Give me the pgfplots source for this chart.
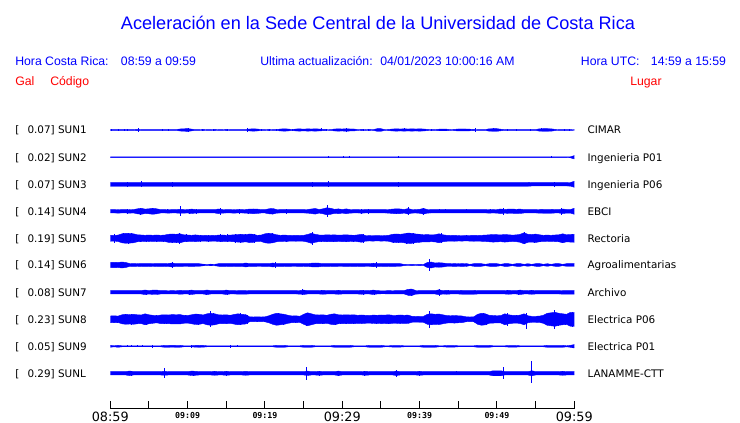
\documentclass[border=0pt]{standalone}
\usepackage{fontspec}
\setmainfont{Liberation Sans}
\newfontfamily\dejavu{DejaVu Sans}
\newfontfamily\dejamono{DejaVu Sans Mono}
\usepackage{pgfplots}
\usepackage{pgfplotstable}
\pgfplotsset{compat=1.18}
\usepgfplotslibrary{fillbetween}

\newcommand{\tlbig}[1]{{\dejavu\fontsize{9.6}{10}\selectfont #1}}
\newcommand{\tlsmall}[1]{{\dejamono\bfseries\fontsize{6.2}{7}\selectfont #1}}

% envelope half-amplitudes (image px) of the ten traces, every 0.5 min
\pgfplotstableread{
t a1 a2 a3 a4 a5 a6 a7 a8 a9 a10
0 0.4 0.4 2.0 1.7 3.0 2.5 1.7 3.3 1.0 1.7
0.5 0.4 0.4 2.0 1.7 2.8 2.7 1.7 3.5 0.5 1.7
1 0.4 0.4 2.0 1.8 3.2 2.5 1.7 3.2 1.0 1.7
1.5 0.4 0.4 2.0 1.7 4.5 3.0 1.7 4.5 0.5 1.7
2 0.4 0.4 2.0 1.7 5.0 2.5 1.7 5.0 0.5 1.7
2.5 0.4 0.4 2.0 1.8 4.8 1.5 1.7 4.7 0.5 2.3
3 0.4 0.4 2.0 1.7 4.5 1.3 1.7 5.0 0.5 1.7
3.5 0.7 0.4 2.0 2.5 3.5 1.5 1.7 4.5 0.5 1.7
4 0.4 0.4 2.0 3.0 3.3 1.3 1.7 4.3 0.5 1.7
4.5 0.4 0.4 2.0 2.2 3.0 1.4 2.3 5.5 0.5 1.7
5 0.4 0.4 2.0 2.5 3.3 1.3 1.7 4.5 0.5 1.7
5.5 0.4 0.4 2.0 3.0 3.0 1.5 2.2 4.0 0.5 1.7
6 0.4 0.4 2.0 2.5 3.3 1.3 2.2 3.5 0.5 1.7
6.5 0.4 0.4 2.0 1.7 3.0 1.4 1.7 4.3 0.5 1.7
7 0.4 0.4 2.0 1.7 3.2 1.3 1.7 4.5 1.0 2.0
7.5 0.4 0.4 2.0 1.8 4.0 1.5 1.5 4.3 1.0 1.7
8 0.4 0.4 2.0 1.7 4.3 2.0 1.7 4.7 0.9 1.7
8.5 0.4 0.4 2.0 1.7 4.0 1.3 1.5 4.5 1.0 1.7
9 1.0 0.4 2.0 2.0 4.5 1.4 2.0 4.7 1.0 1.7
9.5 1.2 0.4 2.0 1.8 3.5 1.3 1.7 4.0 0.5 1.7
10 1.4 0.4 2.0 1.7 3.3 1.3 1.7 3.8 0.5 1.7
10.5 0.9 0.4 2.0 2.2 3.0 1.4 2.2 4.5 0.5 2.2
11 0.4 0.4 2.0 1.8 3.4 1.3 1.7 5.2 0.9 2.0
11.5 0.4 0.4 2.0 1.7 3.0 1.3 1.7 5.0 1.0 1.7
12 0.6 0.4 2.0 1.7 2.8 0.8 1.7 4.3 0.9 1.7
12.5 0.4 0.4 2.0 1.7 3.0 0.7 2.3 5.5 0.5 1.7
13 0.4 0.4 2.0 1.7 3.0 0.8 1.7 6.0 0.5 1.7
13.5 0.6 0.4 2.0 1.7 2.8 0.7 1.7 5.5 0.5 2.0
14 0.4 0.4 2.0 2.3 3.2 1.3 1.7 4.5 0.5 1.7
14.5 0.4 0.4 2.0 1.8 3.3 1.4 1.7 4.3 0.5 1.7
15 0.6 0.4 2.0 1.7 3.0 1.3 2.2 4.5 0.5 2.0
15.5 0.4 0.4 2.0 1.7 3.2 1.4 1.7 4.0 0.5 1.7
16 0.4 0.4 2.0 1.8 3.5 1.3 1.7 4.8 0.5 1.7
16.5 0.4 0.4 2.0 1.7 3.8 1.4 1.8 5.5 0.5 1.7
17 0.4 0.4 2.0 1.7 4.0 1.3 1.8 5.0 0.5 1.7
17.5 0.4 0.4 2.0 1.8 3.5 2.0 1.8 4.7 0.5 2.0
18 1.0 0.4 2.0 2.2 4.3 1.3 1.7 2.5 0.5 1.7
18.5 1.1 0.4 2.0 2.3 4.0 1.4 1.7 2.3 0.5 1.7
19 1.0 0.4 2.0 2.2 3.0 1.3 1.7 2.5 0.5 1.7
19.5 0.4 0.4 2.0 1.7 3.2 1.3 1.7 2.3 0.5 1.7
20 0.4 0.4 2.0 1.7 4.5 1.4 1.7 2.5 0.5 1.7
20.5 0.6 0.4 2.0 2.5 5.0 1.3 1.7 3.5 0.5 1.7
21 0.4 0.4 2.0 2.8 4.5 2.0 1.7 5.0 0.5 1.7
21.5 0.4 0.4 2.0 1.8 3.5 1.3 1.7 6.0 1.0 1.7
22 1.0 0.4 2.0 1.7 3.0 1.4 1.7 5.5 1.0 1.7
22.5 1.1 0.4 2.0 1.7 3.2 1.3 1.7 5.0 1.0 1.7
23 1.0 0.4 2.0 1.7 3.0 1.4 1.7 4.0 0.5 1.7
23.5 0.4 0.4 2.0 1.7 2.8 1.3 1.7 3.3 0.5 1.7
24 1.0 0.4 2.0 1.7 3.0 1.3 1.7 3.5 0.5 1.7
24.5 1.1 0.4 2.0 1.7 2.8 1.4 1.8 3.0 0.5 1.7
25 0.9 0.4 2.0 1.7 3.0 1.3 2.2 5.0 1.0 1.7
25.5 1.1 0.4 2.0 1.8 3.8 1.4 1.7 6.5 1.0 2.2
26 1.0 0.4 2.0 2.3 5.0 1.8 1.7 5.5 1.0 1.7
26.5 1.1 0.4 2.0 2.8 4.0 2.0 1.7 4.5 0.5 1.7
27 1.0 0.4 2.0 1.8 3.3 1.8 1.7 4.3 0.5 2.0
27.5 0.7 0.4 2.0 2.5 3.2 1.3 2.0 4.5 0.5 1.7
28 0.5 0.4 2.0 3.5 3.5 1.4 1.7 4.0 0.5 1.7
28.5 0.4 0.4 2.0 3.0 3.3 1.3 1.7 5.0 0.5 1.7
29 1.0 0.4 2.0 2.0 3.4 1.4 1.7 5.5 1.0 1.7
29.5 1.1 0.4 2.0 2.4 3.2 1.3 2.0 4.5 1.0 2.2
30 1.0 0.4 2.0 1.8 3.3 1.3 1.7 4.3 1.0 1.7
30.5 1.2 0.4 2.0 2.4 3.5 1.4 1.7 4.5 1.0 1.7
31 1.0 0.4 2.0 1.8 3.2 1.3 1.7 4.3 1.0 1.7
31.5 1.0 0.4 2.0 1.7 3.0 1.4 1.7 4.5 0.5 1.7
32 0.4 0.4 2.0 1.7 3.4 1.3 1.7 4.0 0.5 1.7
32.5 0.6 0.4 2.0 1.8 4.0 1.4 2.0 4.3 0.5 1.7
33 0.4 0.4 2.0 1.7 2.8 1.3 1.7 4.0 0.5 2.0
33.5 0.6 0.4 2.0 1.7 2.7 1.3 1.7 3.8 1.0 1.7
34 0.4 0.4 2.0 1.7 2.8 1.8 2.2 4.2 1.0 1.7
34.5 1.3 0.4 2.0 1.7 2.6 1.4 1.7 4.0 1.0 1.7
35 1.3 0.4 2.0 1.7 2.8 1.3 1.5 4.3 1.0 1.7
35.5 0.4 0.4 2.0 1.7 2.7 1.4 1.5 4.2 0.5 1.7
36 0.6 0.4 2.0 1.8 3.0 1.3 1.7 4.5 0.5 1.7
36.5 1.0 0.4 2.0 2.2 4.0 1.4 1.5 4.0 0.8 1.7
37 1.1 0.4 2.0 2.5 4.3 1.3 1.7 4.0 0.8 2.2
37.5 1.0 0.4 2.0 2.3 4.0 1.3 1.7 4.3 0.8 1.7
38 1.1 0.4 2.0 1.8 4.5 0.6 1.7 4.0 0.5 1.7
38.5 1.0 0.4 2.0 2.7 5.2 0.5 3.0 4.2 0.5 1.7
39 1.1 0.4 2.0 1.8 5.0 0.6 3.2 3.0 0.5 1.7
39.5 1.0 0.4 2.0 1.7 4.3 0.5 1.8 2.8 0.5 1.7
40 1.1 0.4 2.0 2.0 4.0 0.6 1.7 3.0 0.5 2.0
40.5 1.0 0.4 2.0 2.8 3.5 0.5 1.7 3.0 1.0 1.7
41 0.6 0.4 2.0 1.8 3.7 2.5 1.7 5.0 1.0 1.7
41.5 0.4 0.4 2.0 1.7 3.4 3.0 1.7 5.5 1.0 1.7
42 0.4 0.4 2.0 1.7 3.6 2.0 1.7 5.0 1.0 1.7
42.5 0.8 0.4 2.0 1.7 4.5 2.3 2.5 5.3 0.5 1.7
43 0.8 0.4 2.0 1.7 3.5 2.0 1.7 4.5 0.5 1.7
43.5 0.8 0.4 2.0 1.7 3.0 1.5 2.0 3.8 0.8 1.7
44 0.4 0.4 2.0 1.7 2.8 1.5 1.7 3.5 0.8 1.7
44.5 0.6 0.4 2.0 1.7 3.0 1.4 1.7 3.8 0.8 1.7
45 1.0 0.4 2.0 1.7 2.7 1.5 1.7 3.5 0.5 1.7
45.5 1.0 0.4 2.0 1.7 2.8 1.4 2.0 3.3 0.5 1.7
46 1.0 0.4 2.0 1.7 2.6 1.5 2.0 2.5 0.5 1.7
46.5 0.8 0.4 2.0 1.7 2.8 0.7 2.0 2.3 0.5 1.7
47 0.6 0.4 2.0 1.7 3.0 1.3 2.0 2.5 0.5 1.7
47.5 0.4 0.4 2.0 1.7 2.8 1.4 1.7 5.0 1.0 1.7
48 0.4 0.4 2.0 1.7 3.0 1.3 1.7 6.0 1.0 1.7
48.5 0.4 0.4 2.0 1.7 3.2 0.7 1.7 5.5 1.0 1.7
49 1.2 0.4 2.0 1.8 3.5 1.3 1.7 4.0 1.0 1.7
49.5 1.3 0.4 2.0 1.7 3.8 1.4 1.7 3.8 0.5 2.5
50 1.3 0.4 2.0 1.8 3.6 1.3 1.7 3.5 0.5 2.5
50.5 0.8 0.4 2.0 2.3 3.4 0.7 1.7 3.7 0.5 2.5
51 0.4 0.4 2.0 1.8 3.8 1.4 1.7 5.5 0.5 1.7
51.5 0.4 0.4 2.0 2.2 3.5 1.3 2.0 4.5 0.8 1.7
52 0.4 0.4 2.0 2.2 3.2 0.7 1.7 4.0 0.8 1.7
52.5 0.4 0.4 2.0 2.0 3.4 1.3 1.7 3.8 0.8 1.7
53 0.4 0.4 2.0 2.2 4.0 1.4 2.2 4.2 0.5 1.7
53.5 0.4 0.4 2.0 1.7 5.5 0.7 1.7 5.5 0.5 1.7
54 0.4 0.4 2.0 1.7 4.0 1.3 1.7 3.5 0.5 1.7
54.5 0.4 0.4 1.7 1.7 3.8 0.7 2.0 3.0 0.5 2.5
55 0.4 0.4 1.7 1.7 4.2 1.3 1.7 3.0 0.5 1.7
55.5 1.2 0.4 1.7 1.8 3.5 1.4 1.7 3.2 0.5 1.7
56 1.3 0.4 1.7 2.0 3.0 0.7 1.7 4.0 0.5 1.7
56.5 1.3 0.4 1.7 2.0 3.2 1.3 1.7 6.0 1.0 1.7
57 1.2 0.4 1.7 2.0 3.0 0.7 1.7 6.5 1.0 1.7
57.5 0.6 0.4 1.7 1.7 3.3 1.3 1.7 7.0 1.0 1.7
58 0.4 0.4 1.7 1.7 3.5 1.4 1.7 6.0 1.0 1.7
58.5 0.4 0.4 1.7 2.3 4.5 0.7 1.8 5.5 1.0 2.0
59 0.4 0.4 1.7 1.8 3.5 1.3 1.8 5.0 0.5 1.7
59.5 0.4 0.5 1.8 1.8 3.8 1.3 1.8 7.0 1.0 1.7
60 0.5 1.7 3.0 3.0 4.0 1.3 1.8 7.0 1.7 1.7
}\env

% short bursts: time, trace centre, half-amplitude
\pgfplotstableread{
t Y a
0.2 279 1.3
1.1 279 1.2
1.8 279 1.2
2.2 279 1.3
3.6 279 2.0
6.7 279 1.3
7.5 279 1.3
10.1 279 2.0
11.9 279 1.3
13.4 279 1.0
15.1 279 1.3
17.8 279 1.7
19.6 279 1.2
20.6 279 1.0
21.5 279 1.3
23.5 279 1.3
25.2 279 1.4
26.6 279 1.3
27.3 279 1.5
28.0 279 1.3
29.2 279 1.4
30.6 279 1.7
31.2 279 1.4
32.7 279 1.2
33.4 279 1.2
36.8 279 1.4
38.1 279 1.5
39.4 279 1.4
40.4 279 1.3
41.5 279 1.2
43.2 279 1.3
45.3 279 1.4
46.2 279 1.3
47.2 279 2.0
49.5 279 1.5
50.2 279 1.3
51.3 279 1.0
52.5 279 1.0
54.3 279 1.0
55.8 279 1.5
56.9 279 1.4
58.7 279 1.0
59.4 279 1.0
28.2 251.7 1.0
30.1 251.7 0.8
30.9 251.7 0.8
37.3 251.7 0.8
57.1 251.7 1.0
2.2 224.7 2.7
4.0 224.7 3.0
8.0 224.7 2.3
26.2 224.7 2.7
28.2 224.7 3.0
37.3 224.7 2.7
57.5 224.7 2.3
2.2 197.7 2.7
3.9 197.7 3.7
5.5 197.7 3.0
7.4 197.7 2.2
9.1 197.7 5.0
10.3 197.7 2.7
11.2 197.7 2.3
14.2 197.7 3.3
16.7 197.7 2.3
17.9 197.7 2.7
22.8 197.7 2.3
28.1 197.7 6.0
32.5 197.7 2.3
33.4 197.7 2.3
38.5 197.7 4.0
40.5 197.7 3.7
42.6 197.7 2.2
43.3 197.7 2.2
46.1 197.7 2.2
49.1 197.7 2.2
50.8 197.7 3.7
58.4 197.7 3.3
0.6 170.7 4.3
1.7 170.7 5.0
2.3 170.7 5.5
2.8 170.7 5.0
3.9 170.7 3.7
4.7 170.7 3.7
6.0 170.7 3.7
6.9 170.7 3.7
8.0 170.7 4.7
8.6 170.7 4.7
9.0 170.7 5.3
9.9 170.7 4.0
11.6 170.7 3.3
12.7 170.7 3.3
14.2 170.7 4.0
15.1 170.7 4.0
16.2 170.7 4.3
16.8 170.7 4.3
17.5 170.7 4.0
18.7 170.7 4.7
20.4 170.7 5.0
21.0 170.7 5.0
22.8 170.7 3.3
26.2 170.7 6.7
27.3 170.7 3.7
28.8 170.7 3.7
30.6 170.7 3.7
31.4 170.7 3.7
32.7 170.7 4.7
36.6 170.7 4.3
37.2 170.7 4.3
38.3 170.7 5.3
39.2 170.7 5.3
40.0 170.7 4.0
42.8 170.7 5.0
46.1 170.7 3.0
49.7 170.7 3.7
50.8 170.7 3.7
53.5 170.7 6.0
54.9 170.7 4.3
55.6 170.7 3.7
58.5 170.7 4.7
59.7 170.7 4.0
1.5 144 3.3
8.1 144 2.7
17.7 144 2.3
21.3 144 2.7
34.4 144 3.3
41.3 144 5.7
49.0 144 1.3
4.7 116.7 2.7
10.3 116.7 2.3
12.5 116.7 2.3
15.1 116.7 2.3
24.9 116.7 3.0
27.3 116.7 2.0
29.5 116.7 2.0
32.7 116.7 2.3
34.2 116.7 2.3
38.9 116.7 3.3
42.6 116.7 3.3
43.7 116.7 2.0
51.3 116.7 2.0
52.8 116.7 2.3
54.5 116.7 2.0
0.9 89.7 3.3
1.9 89.7 5.0
2.8 89.7 5.7
4.7 89.7 5.7
6.0 89.7 4.0
7.3 89.7 4.3
8.6 89.7 4.7
9.7 89.7 4.0
11.4 89.7 5.3
12.9 89.7 8.0
13.4 89.7 6.0
15.5 89.7 4.0
16.8 89.7 6.0
17.7 89.7 4.3
21.7 89.7 6.0
22.4 89.7 5.7
25.4 89.7 6.7
25.8 89.7 5.7
29.1 89.7 5.3
29.7 89.7 4.7
32.7 89.7 4.0
34.4 89.7 4.3
35.9 89.7 4.0
37.0 89.7 4.0
41.3 89.7 8.3
42.2 89.7 5.0
42.8 89.7 4.7
48.2 89.7 6.0
48.7 89.7 5.3
51.3 89.7 6.7
52.5 89.7 4.0
53.8 87.9 7.8
56.6 89.7 5.7
57.5 89.7 9.3
57.9 89.7 6.7
58.8 89.7 5.3
59.7 89.7 7.3
2.2 62.7 1.0
2.7 62.7 1.0
3.5 62.7 1.0
4.2 62.7 1.0
5.4 62.7 1.3
10.5 62.7 1.3
15.5 62.7 1.3
16.5 62.7 1.0
59.8 62.7 1.7
2.8 35.7 2.7
7.0 35.7 5.0
10.7 35.7 2.3
13.5 35.7 2.0
15.0 35.7 2.3
25.4 35.7 6.7
27.1 35.7 2.7
29.5 35.7 2.7
32.9 35.7 2.3
37.0 35.7 3.3
40.0 35.7 2.7
44.8 35.7 2.0
50.8 35.7 6.0
54.4 37.0 11.3
58.5 35.7 2.0
}\spikes

\newcommand{\trace}[2]{%
  \addplot[name path=u#1, blue, mark=none, line width=0.3pt] table[x=t, y expr={#2+\thisrow{a#1}}] {\env};
  \addplot[name path=l#1, blue, mark=none, line width=0.3pt] table[x=t, y expr={#2-\thisrow{a#1}}] {\env};
  \addplot[fill=blue, draw=none] fill between[of=u#1 and l#1];
}

\begin{document}
\begin{tikzpicture}
\begin{axis}[
  at={(82.725pt,10.5pt)}, anchor=south west,
  scale only axis, width=348pt, height=306.75pt,
  xmin=0, xmax=60, ymin=0, ymax=409,
  axis x line=bottom, axis y line=none,
  axis line style={-, line width=0.75pt, black},
  xtick={0,5,...,60},
  xticklabels={\tlbig{08:59},{},\tlsmall{09:09},{},\tlsmall{09:19},{},\tlbig{09:29},{},\tlsmall{09:39},{},\tlsmall{09:49},{},\tlbig{09:59}},
  tick align=inside, major tick length=6pt,
  tick style={line width=0.75pt, black},
  xticklabel style={anchor=north, inner sep=0pt, yshift=-2.2pt},
  clip=false,
]
\trace{1}{279}
\trace{2}{251.7}
\trace{3}{224.7}
\trace{4}{197.7}
\trace{5}{170.7}
\trace{6}{144}
\trace{7}{116.7}
\trace{8}{89.7}
\trace{9}{62.7}
\trace{10}{35.7}
\addplot[draw=none, mark=none, error bars/.cd, y dir=both, y explicit, error mark=none,
  error bar style={draw=blue, line width=0.7pt}] table[x=t, y=Y, y error=a] {\spikes};
\end{axis}
\begin{scope}[x=0.75pt, y=-0.75pt, yshift=317.25pt]
\node[anchor=base west, inner sep=0pt, text=blue, font=\fontsize{13.6}{16}\selectfont] at (120.7,30) {Aceleración en la Sede Central de la Universidad de Costa Rica};
\begin{scope}[every node/.style={anchor=base west, inner sep=0pt, text=blue, font=\fontsize{9.2}{11}\selectfont}]
\node at (15,65.3) {Hora Costa Rica:};
\node at (120.7,65.3) {08:59 a 09:59};
\node at (260,65.3) {Ultima actualización:};
\node at (380,65.3) {04/01/2023 10:00:16 AM};
\node at (580.7,65.3) {Hora UTC:};
\node at (650.7,65.3) {14:59 a 15:59};
\node[text=red] at (15,85.5) {Gal};
\node[text=red] at (50,85.5) {Código};
\node[text=red] at (630,85.5) {Lugar};
\end{scope}
\begin{scope}[every node/.style={anchor=base west, inner sep=0pt, text=black, font=\dejavu\fontsize{7.8}{9}\selectfont}]
\foreach \yy/\vv/\cc/\ll in {130/0.07/SUN1/CIMAR, 157.3/0.02/SUN2/Ingenieria P01, 184.3/0.07/SUN3/Ingenieria P06, 211.3/0.14/SUN4/EBCI, 238.3/0.19/SUN5/Rectoria, 265/0.14/SUN6/Agroalimentarias, 292.3/0.08/SUN7/Archivo, 319.3/0.23/SUN8/Electrica P06, 346.3/0.05/SUN9/Electrica P01, 373.3/0.29/SUNL/LANAMME-CTT}{
  \node at (15,\yy+4) {[};
  \node at (27.3,\yy+4) {\vv] \cc};
  \node at (587.3,\yy+4) {\ll};
}
\end{scope}
\end{scope}
\pgfresetboundingbox
\path[use as bounding box] (0,0) rectangle (555pt,317.25pt);
\end{tikzpicture}
\end{document}
